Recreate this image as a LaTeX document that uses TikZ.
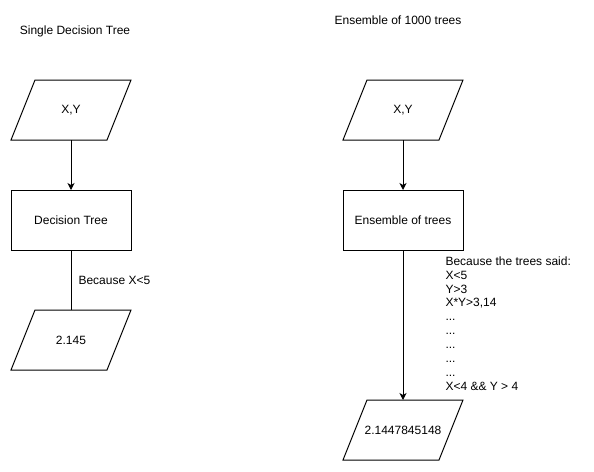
\documentclass[tikz,border=0pt]{standalone}
\usepackage{fontspec}
\setmainfont{Liberation Sans}
\usetikzlibrary{arrows.meta,positioning}

\tikzset{
  io/.style={rectangle, minimum width=120pt, minimum height=60pt,
    inner sep=0pt, outer sep=0pt,
    append after command={\pgfextra{\draw (\tikzlastnode.south west)
      -- ([xshift=-24pt]\tikzlastnode.south east) -- (\tikzlastnode.north east)
      -- ([xshift=24pt]\tikzlastnode.north west) -- cycle;}}},
  proc/.style={draw, rectangle, minimum width=120pt, minimum height=60pt,
    inner sep=0pt, outer sep=0pt},
  lbl/.style={inner sep=0pt},
}

\begin{document}
\begin{tikzpicture}[x=1pt,y=-1pt,line width=1pt,font=\fontsize{12}{13.9}\selectfont,
  >={Stealth[length=7pt,width=7pt,inset=2pt]}]
\useasboundingbox (0,0) rectangle (594,471);

% titles
\node[lbl] (single) at (75,31) {Single Decision Tree};
\node[lbl] (ensemble) at (398,20) {Ensemble of 1000 trees};

% single tree
\node[io] (in1) at (71,110) {X,Y};
\node[proc] (tree1) at (71,220) {Decision Tree};
\node[io] (out1) at (71,340) {2.145};

% ensemble
\node[io] (in2) at (403,110) {X,Y};
\node[proc] (tree2) at (403,220) {Ensemble of trees};
\node[io] (out2) at (403,430) {2.1447845148};

\draw[->] (in1) -- (tree1);
\draw (tree1) -- node[lbl,anchor=west,xshift=7pt] (why1) {Because X<5} (out1);

\draw[->] (in2) -- (tree2);
\draw[->] (tree2) -- (out2);
\node[lbl,anchor=north west,align=left] (why2) at (445,256)
  {Because the trees said:\\X<5\\Y>3\\X*Y>3,14\\...\\...\\...\\...\\...\\X<4 \&\& Y > 4};
\end{tikzpicture}
\end{document}
